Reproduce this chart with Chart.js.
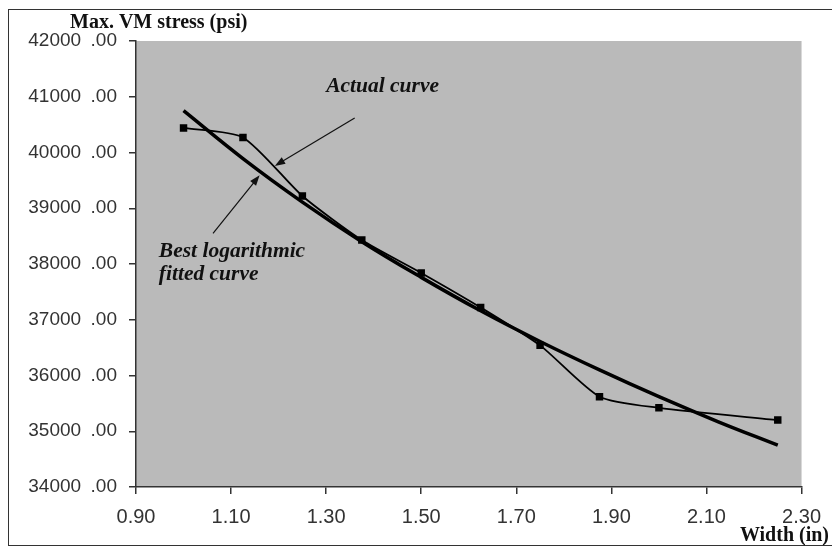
<!DOCTYPE html>
<html>
<head>
<meta charset="utf-8">
<title>Max. VM stress vs Width</title>
<script src="https://cdn.jsdelivr.net/npm/chart.js@4.4.1/dist/chart.umd.min.js"></script>
<style>
    body { margin: 0; background: #ffffff; }
    canvas { display: block; }
</style>
</head>
<body>
<canvas id="grafico-tensao" width="832" height="547"></canvas>
<script>
// DATA
const widths = [1.00, 1.125, 1.25, 1.375, 1.50, 1.625, 1.75, 1.875, 2.00, 2.25];
const actualStress = [40440, 40270, 39220, 38430, 37840, 37220, 36540, 35620, 35420, 35200];

const fitWidths = [1.00, 1.125, 1.25, 1.375, 1.50, 1.625, 1.75, 1.875, 2.00, 2.125, 2.25];
const fitStress = [40750, 39890, 39110, 38400, 37760, 37160, 36610, 36100, 35620, 35170, 34750];

const xTicks = [0.90, 1.10, 1.30, 1.50, 1.70, 1.90, 2.10, 2.30];
const yTicks = [34000, 35000, 36000, 37000, 38000, 39000, 40000, 41000, 42000];

const yTitle = 'Max. VM stress (psi)';
const xTitle = 'Width (in)';

const SANS = '"Liberation Sans", Arial, sans-serif';
const SERIF = '"Liberation Serif", "Times New Roman", serif';

function toPoints(xs, ys) {
    return xs.map((x, i) => ({ x: x, y: ys[i] }));
}

// gray plot area, outer frame and axis titles
const fundoPlugin = {
    id: 'fundo',
    beforeDraw(chart) {
        const ctx = chart.ctx;
        const a = chart.chartArea;
        ctx.save();
        ctx.fillStyle = '#ffffff';
        ctx.fillRect(0, 0, chart.width, chart.height);
        ctx.strokeStyle = '#333333';
        ctx.lineWidth = 1;
        ctx.strokeRect(8.5, 9.5, chart.width + 10, 536);
        ctx.fillStyle = '#bababa';
        ctx.fillRect(a.left, a.top, a.right - a.left, a.bottom - a.top);
        ctx.restore();
    },
    afterDraw(chart) {
        const ctx = chart.ctx;
        ctx.save();
        ctx.fillStyle = '#111111';
        ctx.font = 'bold 20px ' + SERIF;
        ctx.textBaseline = 'middle';
        ctx.textAlign = 'left';
        ctx.fillText(yTitle, 70, 23);
        ctx.textAlign = 'right';
        ctx.fillText(xTitle, 829, 536);
        ctx.restore();
    }
};

// annotation texts and arrows, placed in data units
const notas = [
    { lines: ['Actual curve'], x: 1.30, y: 41180, from: [1.36, 40620], to: [1.192, 39760] },
    { lines: ['Best logarithmic', 'fitted curve'], x: 0.948, y: 38230, from: [1.062, 38550], to: [1.160, 39590] }
];

function seta(ctx, x1, y1, x2, y2) {
    const ang = Math.atan2(y2 - y1, x2 - x1);
    const len = 11;
    ctx.beginPath();
    ctx.moveTo(x1, y1);
    ctx.lineTo(x2 - Math.cos(ang) * 6, y2 - Math.sin(ang) * 6);
    ctx.stroke();
    ctx.beginPath();
    ctx.moveTo(x2, y2);
    ctx.lineTo(x2 - len * Math.cos(ang - 0.35), y2 - len * Math.sin(ang - 0.35));
    ctx.lineTo(x2 - len * Math.cos(ang + 0.35), y2 - len * Math.sin(ang + 0.35));
    ctx.closePath();
    ctx.fill();
}

const notasPlugin = {
    id: 'notas',
    afterDatasetsDraw(chart) {
        const ctx = chart.ctx;
        const sx = chart.scales.x;
        const sy = chart.scales.y;
        ctx.save();
        ctx.fillStyle = '#111111';
        ctx.strokeStyle = '#111111';
        ctx.lineWidth = 1.2;
        ctx.font = 'italic bold 21.5px ' + SERIF;
        ctx.textAlign = 'left';
        ctx.textBaseline = 'middle';
        notas.forEach(n => {
            const px = sx.getPixelForValue(n.x);
            const py = sy.getPixelForValue(n.y);
            n.lines.forEach((t, i) => ctx.fillText(t, px, py + i * 23));
            seta(ctx,
                sx.getPixelForValue(n.from[0]), sy.getPixelForValue(n.from[1]),
                sx.getPixelForValue(n.to[0]), sy.getPixelForValue(n.to[1]));
        });
        ctx.restore();
    }
};

function gerarGraficoTensao() {
    const canvas = document.getElementById('grafico-tensao');
    const ctx = canvas.getContext('2d');

    const data = {
        datasets: [
            {
                label: 'Best logarithmic fitted curve',
                data: toPoints(fitWidths, fitStress),
                showLine: true,
                borderColor: '#000000',
                borderWidth: 3.5,
                pointRadius: 0,
                tension: 0.4,
                order: 2
            },
            {
                label: 'Actual curve',
                data: toPoints(widths, actualStress),
                showLine: true,
                borderColor: '#000000',
                borderWidth: 1.8,
                pointStyle: 'rect',
                pointRadius: 4,
                pointBackgroundColor: '#000000',
                pointBorderColor: '#000000',
                tension: 0.22,
                order: 1
            }
        ]
    };

    const config = {
        type: 'scatter',
        data: data,
        options: {
            responsive: false,
            animation: false,
            devicePixelRatio: 1,
            layout: { padding: { top: 41, right: 29, left: 0, bottom: 0 } },
            plugins: {
                legend: { display: false },
                tooltip: { enabled: false }
            },
            scales: {
                x: {
                    type: 'linear',
                    min: xTicks[0],
                    max: xTicks[xTicks.length - 1],
                    afterBuildTicks: s => { s.ticks = xTicks.map(v => ({ value: v })); },
                    afterFit: s => { s.height = 60; },
                    grid: { drawOnChartArea: false, drawTicks: true, tickLength: 7, color: '#333333', lineWidth: 1.5 },
                    border: { color: '#333333', width: 1.5 },
                    ticks: {
                        color: '#333333',
                        padding: 11,
                        maxRotation: 0,
                        font: { family: SANS, size: 20 },
                        callback: v => v.toFixed(2)
                    }
                },
                y: {
                    type: 'linear',
                    min: yTicks[0],
                    max: yTicks[yTicks.length - 1],
                    afterBuildTicks: s => { s.ticks = yTicks.map(v => ({ value: v })); },
                    afterFit: s => { s.width = 136; },
                    grid: { drawOnChartArea: false, drawTicks: true, tickLength: 7, color: '#333333', lineWidth: 1.5 },
                    border: { color: '#333333', width: 1.5 },
                    ticks: {
                        color: '#333333',
                        padding: 12,
                        font: { family: SANS, size: 19 },
                        callback: v => v.toFixed(0) + '\u2002.00'
                    }
                }
            }
        },
        plugins: [fundoPlugin, notasPlugin]
    };

    new Chart(ctx, config);
}

gerarGraficoTensao();
</script>
</body>
</html>
